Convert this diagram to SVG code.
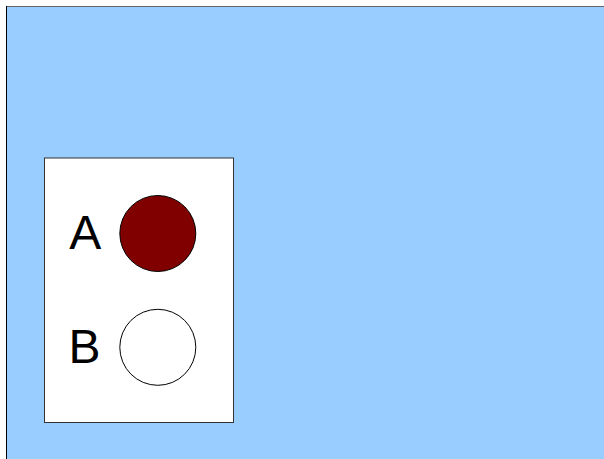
<svg xmlns="http://www.w3.org/2000/svg" width="604" height="459" viewBox="0 0 604 459">
<style>
.lbl{font-family:"Liberation Sans",Arial,sans-serif;font-size:48px;fill:#000}
.c{stroke:#000;stroke-width:1}
</style>
<rect x="0" y="0" width="604" height="459" fill="#fff"/>
<g id="background">
<rect x="6.5" y="6.5" width="610" height="470" fill="#99ccff" stroke="none"/>
<line x1="6" y1="6.5" x2="604" y2="6.5" stroke="#666" stroke-width="1"/>
<line x1="6.5" y1="6" x2="6.5" y2="459" stroke="#000" stroke-width="1"/>
</g>
<g id="panel">
<rect x="44.5" y="158" width="189" height="264.5" fill="#fff" stroke="#333" stroke-width="1"/>
</g>
<g id="nodeA">
<text class="lbl" x="69.3" y="248.5">A</text>
<circle class="c" cx="157.8" cy="233.5" r="38" fill="#800000"/>
</g>
<g id="nodeB">
<text class="lbl" x="68.5" y="362.5">B</text>
<circle class="c" cx="157.8" cy="347.3" r="38" fill="#fff"/>
</g>
<g id="connectors"></g>
</svg>
